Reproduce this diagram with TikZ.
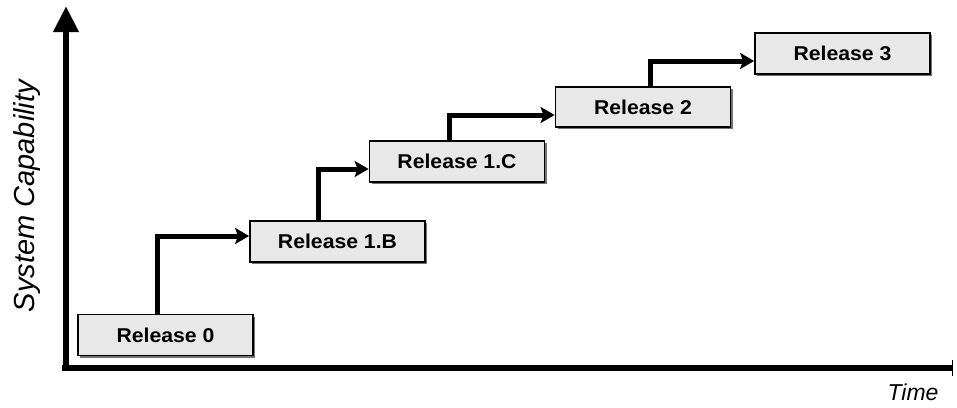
\documentclass[tikz,border=0pt]{standalone}
\usepackage{fontspec}
\setmainfont{Liberation Sans}
\usetikzlibrary{arrows.meta,shadows}
\begin{document}
\begin{tikzpicture}[x=1pt,y=-1pt,
  rel/.style={draw=black,line width=1.8pt,fill=black!9,minimum width=175pt,minimum height=41pt,
    inner sep=0pt,font=\addfontfeature{FakeStretch=1.06}\fontsize{20}{22}\selectfont\bfseries,
    drop shadow={shadow xshift=2pt,shadow yshift=-2pt,fill=black!55,opacity=1}},
  conn/.style={line width=5pt,-{Stealth[length=14pt,width=16pt,inset=3pt]}},
  axis/.style={line width=6.5pt},
  axlab/.style={font=\itshape\fontsize{29}{31}\selectfont}]
\useasboundingbox (0,0) rectangle (957,407);
% axes
\coordinate (o) at (66,368);
\coordinate (ytop) at (66,6);
\coordinate (xend) at (952,368);
\draw[axis,-{Triangle[length=26pt,width=24pt]}] (66,371) -- (ytop);
\draw[axis] (62,368) -- (xend);
\draw[line width=1.6pt] (952.5,360) -- (952.5,376);
\node[axlab,rotate=90] (ylab) at (27,196) {System Capability};
\node[axlab,font=\itshape\fontsize{23}{25}\selectfont,anchor=east] (xlab) at (942,392) {Time};
% boxes
\node[rel] (r0) at (165.5,335) {Release 0};
\node[rel] (r1b) at (337.5,241.5) {Release 1.B};
\node[rel] (r1c) at (457,161.5) {Release 1.C};
\node[rel,minimum height=40pt] (r2) at (643,107) {Release 2};
\node[rel] (r3) at (842.5,53.5) {Release 3};
% connectors
\coordinate (k1) at (157,236);
\coordinate (k2) at (318,169);
\coordinate (k3) at (449,115);
\coordinate (k4) at (650,61);
\draw[conn] (r0.north -| k1) |- (r1b.west |- k1);
\draw[conn] (r1b.north -| k2) |- (r1c.west |- k2);
\draw[conn] (r1c.north -| k3) |- (r2.west |- k3);
\draw[conn] (r2.north -| k4) |- (r3.west |- k4);
\end{tikzpicture}
\end{document}
